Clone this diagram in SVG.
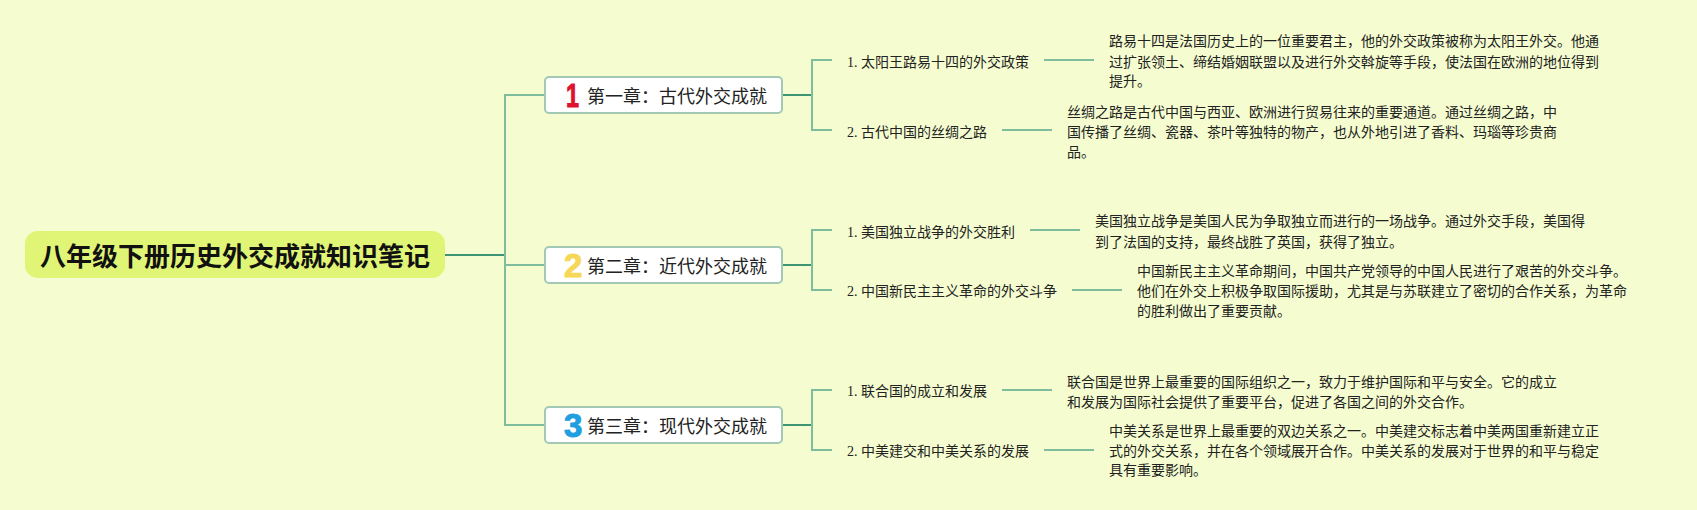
<svg xmlns="http://www.w3.org/2000/svg" width="1697" height="510" viewBox="0 0 1697 510">
<style>
.bg{fill:#f5fdd0}
.c{fill:none;stroke:#7fbe9c;stroke-width:2}
.d{fill:none;stroke:#3f9475;stroke-width:2}
.root{fill:#e0f575}
.box{fill:#fff;stroke:#a3c9b5;stroke-width:2}
text{font-family:"Liberation Serif","Noto Sans CJK SC",serif;fill:#222}
.rt{font-family:"Noto Sans CJK SC",sans-serif;font-size:26px;font-weight:700;fill:#111}
.ch{font-family:"Noto Sans CJK SC",sans-serif;font-size:18px;fill:#222}
.num{font-family:"Liberation Sans",sans-serif;font-size:33px;font-weight:700;stroke-width:1;stroke-linejoin:round}
.s{font-size:14px}
</style>
<rect class="bg" width="1697" height="510"/>
<g id="connectors">
<path class="d" d="M445 255H505"/>
<path class="c" d="M545 95H505V425H545M505 265H545"/>
<path class="d" d="M782 95H812M782 265H812M782 425H812"/>
<path class="c" d="M832 60H812V130H832M1044 60H1094M1002 130H1052"/>
<path class="c" d="M832 230H812V290H832M1030 230H1080M1072 290H1122"/>
<path class="c" d="M832 390H812V450H832M1002 390H1052M1044 450H1094"/>
</g>
<g id="root"><rect class="root" x="25" y="231" width="420" height="47" rx="13"/><text class="rt" x="40" y="266">八年级下册历史外交成就知识笔记</text></g>
<g id="ch1"><rect class="box" x="545" y="77" width="237" height="36" rx="4"/><text class="num" x="566" y="107" textLength="13" lengthAdjust="spacingAndGlyphs" style="fill:#e0132f;stroke:#e0132f">1</text><text class="ch" x="587" y="103">第一章：古代外交成就</text></g>
<g id="ch2"><rect class="box" x="545" y="247" width="237" height="36" rx="4"/><text class="num" x="564" y="277" style="fill:#f6d757;stroke:#f6d757">2</text><text class="ch" x="587" y="273">第二章：近代外交成就</text></g>
<g id="ch3"><rect class="box" x="545" y="407" width="237" height="36" rx="4"/><text class="num" x="564" y="437" style="fill:#1f9fe0;stroke:#1f9fe0">3</text><text class="ch" x="587" y="433">第三章：现代外交成就</text></g>
<g id="n11"><text class="s" x="847" y="67">1. 太阳王路易十四的外交政策</text></g>
<g id="d11"><text class="s" x="1109" y="46">路易十四是法国历史上的一位重要君主，他的外交政策被称为太阳王外交。他通</text><text class="s" x="1109" y="67">过扩张领土、缔结婚姻联盟以及进行外交斡旋等手段，使法国在欧洲的地位得到</text><text class="s" x="1109" y="86">提升。</text></g>
<g id="n12"><text class="s" x="847" y="137">2. 古代中国的丝绸之路</text></g>
<g id="d12"><text class="s" x="1067" y="117">丝绸之路是古代中国与西亚、欧洲进行贸易往来的重要通道。通过丝绸之路，中</text><text class="s" x="1067" y="137">国传播了丝绸、瓷器、茶叶等独特的物产，也从外地引进了香料、玛瑙等珍贵商</text><text class="s" x="1067" y="157">品。</text></g>
<g id="n21"><text class="s" x="847" y="237">1. 美国独立战争的外交胜利</text></g>
<g id="d21"><text class="s" x="1095" y="226">美国独立战争是美国人民为争取独立而进行的一场战争。通过外交手段，美国得</text><text class="s" x="1095" y="247">到了法国的支持，最终战胜了英国，获得了独立。</text></g>
<g id="n22"><text class="s" x="847" y="296">2. 中国新民主主义革命的外交斗争</text></g>
<g id="d22"><text class="s" x="1137" y="276">中国新民主主义革命期间，中国共产党领导的中国人民进行了艰苦的外交斗争。</text><text class="s" x="1137" y="296">他们在外交上积极争取国际援助，尤其是与苏联建立了密切的合作关系，为革命</text><text class="s" x="1137" y="316">的胜利做出了重要贡献。</text></g>
<g id="n31"><text class="s" x="847" y="396">1. 联合国的成立和发展</text></g>
<g id="d31"><text class="s" x="1067" y="387">联合国是世界上最重要的国际组织之一，致力于维护国际和平与安全。它的成立</text><text class="s" x="1067" y="407">和发展为国际社会提供了重要平台，促进了各国之间的外交合作。</text></g>
<g id="n32"><text class="s" x="847" y="456">2. 中美建交和中美关系的发展</text></g>
<g id="d32"><text class="s" x="1109" y="436">中美关系是世界上最重要的双边关系之一。中美建交标志着中美两国重新建立正</text><text class="s" x="1109" y="456">式的外交关系，并在各个领域展开合作。中美关系的发展对于世界的和平与稳定</text><text class="s" x="1109" y="475">具有重要影响。</text></g>
</svg>
